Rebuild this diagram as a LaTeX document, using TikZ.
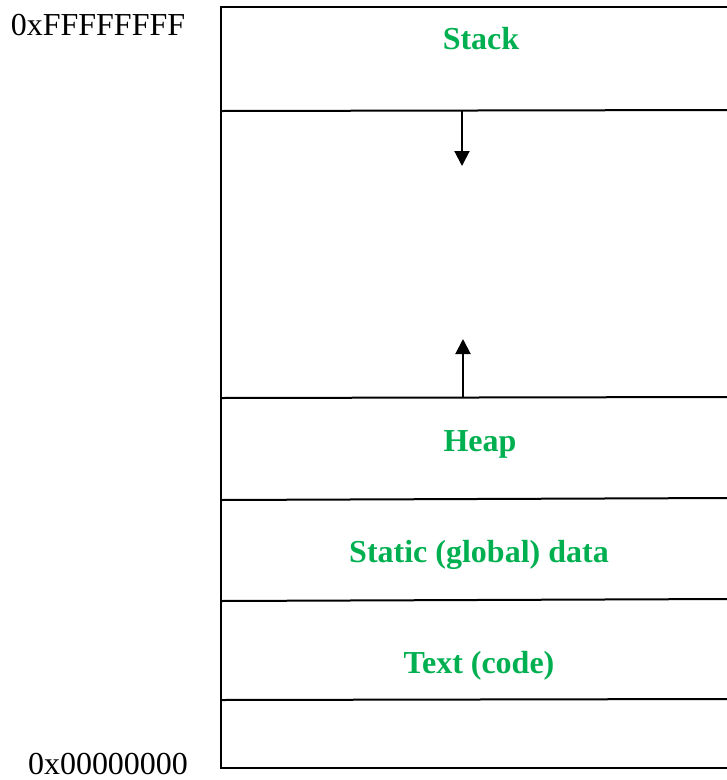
\documentclass[tikz,border=0pt]{standalone}
\usepackage{fontspec}
\setmainfont{Liberation Serif}
\usetikzlibrary{arrows.meta}
\definecolor{segGreen}{RGB}{0,176,80}
\begin{document}
\begin{tikzpicture}[x=1pt,y=-1pt,
  wall/.style={line width=2pt},
  seglabel/.style={font=\fontsize{32}{36}\selectfont\bfseries, text=segGreen, inner sep=0pt},
  addr/.style={font=\fontsize{32}{36}\selectfont, inner sep=0pt},
  growarrow/.style={line width=2pt, -{Triangle[length=15pt,width=15pt]}}]
\useasboundingbox (0,0) rectangle (727,780);
% outer box (open on the right)
\draw[wall] (730,7) -- (221,7) -- (221,768) -- (730,768);
% separators
\coordinate (s1l) at (221,111); \coordinate (s1r) at (730,110);
\coordinate (s2l) at (221,398); \coordinate (s2r) at (730,397);
\coordinate (s3l) at (221,500); \coordinate (s3r) at (730,498);
\coordinate (s4l) at (221,601); \coordinate (s4r) at (730,599);
\coordinate (s5l) at (221,700); \coordinate (s5r) at (730,699);
\draw[wall] (s1l) -- (s1r);
\draw[wall] (s2l) -- (s2r);
\draw[wall] (s3l) -- (s3r);
\draw[wall] (s4l) -- (s4r);
\draw[wall] (s5l) -- (s5r);
% labels
\node[seglabel] (stack) at (481,39) {Stack};
\node[seglabel] (heap) at (480,444) {Heap};
\node[seglabel] (static) at (479,555) {Static (global) data};
\node[seglabel] (text) at (479,666) {Text (code)};
\node[addr] (top) at (98,25) {0xFFFFFFFF};
\node[addr] (bot) at (108,764) {0x00000000};
% growth arrows
\coordinate (a1s) at (462,111); \coordinate (a1e) at (462,166);
\coordinate (a2s) at (463,398); \coordinate (a2e) at (463,339);
\draw[growarrow] (a1s) -- (a1e);
\draw[growarrow] (a2s) -- (a2e);
\end{tikzpicture}
\end{document}
